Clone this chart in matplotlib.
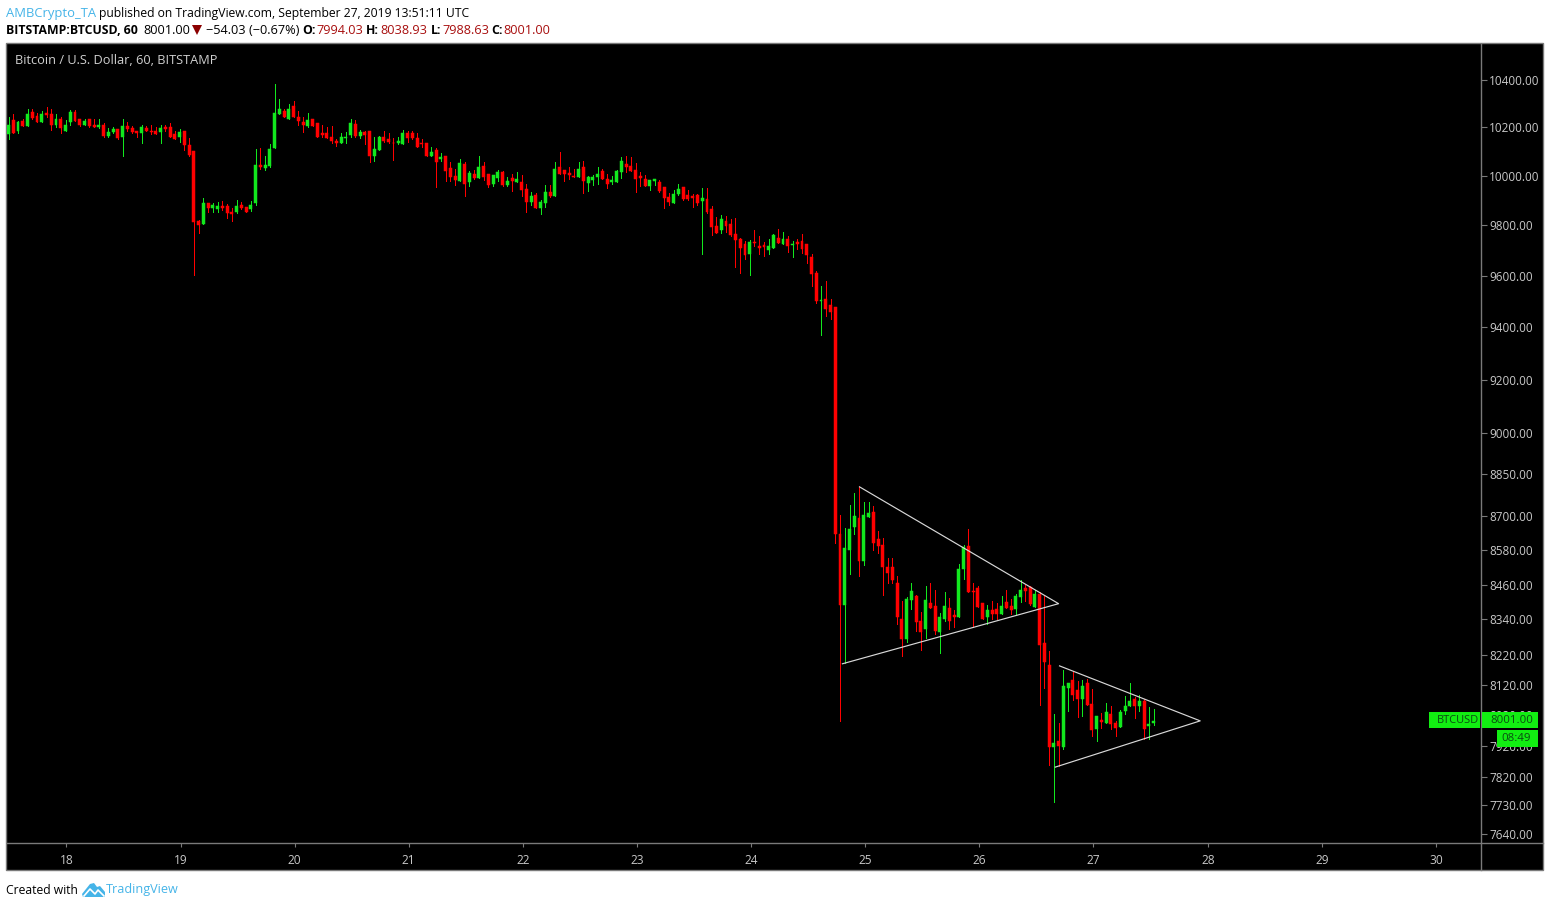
import matplotlib
matplotlib.use("Agg")
import matplotlib.pyplot as plt
from matplotlib.patches import Rectangle, Polygon

opens = [
10171,10229,10187,10226,10204,10264,10247,10223,10262,10254,
10208,10237,10183,10221,10264,10237,10212,10233,10208,10200,
10212,10166,10179,10192,10162,10204,10196,10183,10175,10196,
10187,10183,10179,10200,10200,10171,10162,10183,10125,10100,
9816,9804,9890,9869,9865,9878,9878,9853,9853,9882,
9874,9865,9890,10046,10033,10041,10116,10258,10267,10237,
10291,10243,10222,10204,10237,10220,10175,10175,10162,10145,
10137,10154,10170,10216,10166,10179,10183,10083,10108,10158,
10150,10137,10133,10129,10175,10175,10154,10137,10133,10083,
10108,10070,10083,10033,10000,9980,10050,9976,10008,9992,
10041,10008,9967,9992,10016,9963,9992,9976,9976,9947,
9894,9922,9869,9890,9935,9918,10037,10025,10012,10000,
9996,10037,9971,9984,9996,10021,9988,9976,9976,10017,
10050,10042,10025,10000,9988,9959,9980,9976,9955,9914,
9890,9927,9955,9922,9918,9922,9898,9906,9865,9796,
9780,9816,9804,9765,9745,9725,9686,9733,9717,9721,
9702,9710,9749,9725,9745,9721,9733,9737,9725,9674,
9611,9501,9509,9486,9478,8638,8389,8580,8662,8693,
8541,8697,8715,8618,8597,8520,8520,8464,8340,8272,
8407,8421,8333,8306,8396,8386,8296,8343,8379,8354,
8350,8513,8594,8439,8449,8396,8350,8372,8375,8357,
8400,8386,8375,8418,8449,8453,8382,8428,8261,8187,
7917,7936,7917,8110,8137,8104,8074,8127,8057,7975,
8004,7995,8024,7995,7982,8034,8051,8074,8051,8067,
7985,7994]

highs = [
10243,10254,10226,10237,10275,10275,10260,10267,10287,10275,
10254,10243,10229,10271,10271,10237,10237,10236,10233,10233,
10217,10196,10200,10192,10233,10221,10204,10183,10212,10204,
10212,10200,10212,10212,10217,10183,10192,10183,10154,10100,
9820,9910,9890,9890,9894,9898,9886,9869,9902,9894,
9874,9898,10112,10116,10083,10129,10383,10321,10279,10300,
10312,10270,10245,10262,10237,10220,10212,10200,10204,10150,
10175,10179,10233,10229,10191,10187,10187,10162,10166,10187,
10175,10154,10158,10191,10183,10187,10175,10150,10137,10120,
10116,10095,10083,10058,10029,10070,10058,10020,10025,10083,
10058,10008,10004,10025,10020,9996,10008,10016,10004,9967,
9935,9931,9902,9963,9963,10058,10099,10025,10037,10029,
10058,10062,10000,10004,10037,10029,10008,10000,10025,10079,
10083,10079,10054,10017,10004,9984,9988,9984,9955,9931,
9943,9967,9955,9943,9927,9927,9951,9951,9878,9833,
9841,9837,9824,9828,9749,9737,9741,9780,9757,9733,
9745,9765,9784,9772,9757,9737,9745,9765,9725,9686,
9619,9560,9580,9509,9478,8704,8659,8741,8784,8806,
8751,8751,8737,8649,8621,8552,8552,8488,8403,8418,
8467,8425,8365,8456,8467,8442,8361,8435,8414,8372,
8530,8597,8655,8467,8456,8396,8389,8403,8396,8421,
8442,8410,8428,8474,8460,8456,8442,8435,8421,8234,
8024,7995,8170,8127,8167,8133,8137,8140,8107,8018,
8027,8061,8051,8001,8037,8084,8127,8080,8087,8074,
8047,8039]

lows = [
10153,10175,10175,10204,10204,10236,10221,10221,10244,10191,
10203,10175,10183,10212,10225,10205,10210,10203,10200,10196,
10158,10162,10178,10150,10083,10183,10175,10162,10133,10187,
10171,10171,10137,10187,10161,10150,10141,10108,10083,9604,
9768,9804,9853,9853,9853,9861,9829,9816,9849,9865,
9853,9857,9882,10029,10025,10037,10116,10258,10242,10237,
10243,10208,10179,10200,10204,10162,10158,10154,10133,10124,
10137,10137,10162,10158,10154,10129,10058,10062,10108,10141,
10133,10066,10129,10129,10141,10150,10120,10120,10083,10083,
9955,10062,9980,9980,9963,9980,9918,9959,9988,9992,
9984,9955,9959,9980,9959,9959,9939,9976,9918,9853,
9882,9869,9844,9874,9914,9918,10008,9980,9988,9996,
9996,9931,9939,9963,9967,9988,9951,9967,9976,9992,
10017,10021,9935,9959,9959,9943,9963,9935,9869,9882,
9890,9922,9902,9902,9874,9882,9686,9849,9761,9769,
9769,9772,9757,9635,9611,9666,9604,9717,9686,9678,
9686,9710,9729,9725,9694,9674,9706,9690,9651,9560,
9493,9370,9442,9429,8606,8001,8193,8495,8638,8488,
8527,8697,8580,8569,8425,8464,8467,8323,8217,8262,
8375,8299,8237,8278,8379,8289,8227,8333,8306,8313,
8350,8478,8435,8313,8382,8340,8323,8340,8340,8357,
8379,8357,8357,8400,8403,8389,8382,8054,8110,7858,
7740,7854,7908,8034,8071,8013,8017,8054,7952,7936,
7978,7995,7975,7953,7982,8024,8051,8010,8034,7943,
7943,7989]

closes = [
10212,10178,10222,10204,10254,10240,10223,10254,10250,10212,
10233,10196,10212,10264,10225,10208,10225,10204,10200,10212,
10166,10179,10192,10157,10204,10192,10179,10175,10200,10187,
10179,10171,10196,10192,10162,10153,10179,10125,10086,9812,
9800,9890,9869,9882,9878,9869,9849,9845,9878,9869,
9853,9882,10046,10037,10046,10112,10262,10275,10242,10275,
10243,10225,10208,10229,10204,10162,10170,10154,10145,10137,
10158,10162,10220,10166,10179,10170,10083,10112,10158,10145,
10141,10135,10145,10175,10154,10154,10120,10129,10083,10099,
10058,10079,10020,9996,9984,10054,9967,10012,9992,10037,
9996,9963,10004,10016,9963,9980,9980,9988,9943,9894,
9918,9869,9894,9935,9918,10029,10008,10008,10004,9996,
10029,9980,9996,9996,10008,9988,9967,9984,10021,10062,
10037,10021,9988,9992,9959,9984,9988,9939,9910,9894,
9927,9947,9906,9906,9910,9890,9910,9853,9792,9769,
9824,9796,9761,9741,9710,9682,9733,9729,9710,9714,
9717,9761,9729,9745,9717,9725,9725,9706,9682,9607,
9501,9505,9470,9458,8635,8389,8587,8656,8700,8541,
8704,8711,8604,8594,8520,8499,8474,8350,8275,8410,
8439,8330,8296,8407,8379,8302,8347,8386,8333,8350,
8513,8590,8435,8435,8382,8340,8372,8357,8357,8386,
8379,8372,8421,8442,8439,8393,8428,8254,8197,7917,
7930,7920,8117,8127,8087,8074,8117,8054,7972,8018,
7998,8031,7991,7978,8031,8051,8067,8051,8067,7975,
7990,8001]

price_ticks = [7640, 7730, 7820, 7920, 8020, 8120, 8220, 8340, 8460, 8580,
               8700, 8850, 9000, 9200, 9400, 9600, 9800, 10000, 10200, 10400]
day_labels = ["18", "19", "20", "21", "22", "23", "24", "25", "26", "27", "28", "29", "30"]
day_ticks = [12.2, 36.2, 60.2, 84.2, 108.3, 132.3, 156.3, 180.3, 204.3, 228.3, 252.4, 276.4, 300.4]

# Hand-drawn triangle trend lines: (bar index, price)
triangle_1_x = [179.1, 221.0, 175.5]
triangle_1_y = [8805, 8394, 8190]
triangle_2_x = [221.2, 250.8, 220.3]
triangle_2_y = [8183, 8001, 7851]

GREEN = "#12E81E"
RED = "#FF0000"
AXIS_TXT = "#C8C8C8"
LINE = "#7A7A7A"
BLUE = "#45B4E8"
DARKRED = "#A80F0F"
FONT = "Open Sans"
W, H = 1550, 907

plt.rcParams["font.family"] = FONT
fig = plt.figure(figsize=(W / 100, H / 100), dpi=100, facecolor="white")

# background panel in pixel coordinates
bg = fig.add_axes([0, 0, 1, 1], zorder=0)
bg.set_xlim(0, W)
bg.set_ylim(H, 0)
bg.axis("off")
bg.add_patch(Rectangle((6, 43), 1537, 827, facecolor="black", edgecolor=LINE, lw=1))
bg.plot([1481, 1481], [44, 870], color=LINE, lw=1)
bg.plot([7, 1543], [843, 843], color=LINE, lw=1)

# chart
ax = fig.add_axes([7 / W, (H - 843) / H, (1481 - 7) / W, (843 - 44) / H], zorder=1)
ax.patch.set_alpha(0)
ax.set_yscale("log")
ax.set_ylim(7611, 10554)
ax.set_xlim(-0.316, 309.9)
for s in ax.spines.values():
    s.set_visible(False)

xs = list(range(len(opens)))
colors = [GREEN if c >= o else RED for o, c in zip(opens, closes)]
px = 72 / 100
ax.vlines(xs, lows, highs, colors=colors, lw=1 * px, antialiased=False, zorder=2)
tops = [max(o, c) for o, c in zip(opens, closes)]
bots = [min(o, c) for o, c in zip(opens, closes)]
ax.bar(xs, [t - b for t, b in zip(tops, bots)], bottom=bots, width=0.62, color=colors,
       edgecolor=colors, linewidth=0.35, zorder=3)

ax.plot(triangle_1_x, triangle_1_y, color="#D8D8D8", lw=0.85, zorder=4)
ax.plot(triangle_2_x, triangle_2_y, color="#D8D8D8", lw=0.85, zorder=4)

ax.yaxis.tick_right()
ax.set_yticks(price_ticks)
ax.set_yticklabels([f"{p:.2f}" for p in price_ticks])
ax.minorticks_off()
ax.tick_params(axis="y", length=4, width=0.8, color=LINE, labelcolor=AXIS_TXT, labelsize=8.5, pad=2)
ax.set_xticks(day_ticks)
ax.set_xticklabels(day_labels)
ax.tick_params(axis="x", length=3, width=0.8, color=LINE, labelcolor=AXIS_TXT, labelsize=8.6, pad=5)

# overlay: header, tags, footer
ov = fig.add_axes([0, 0, 1, 1], zorder=5)
ov.set_xlim(0, W)
ov.set_ylim(H, 0)
ov.axis("off")
ov.patch.set_alpha(0)


def t(x, y, s, color="black", size=9.2, weight="normal", ha="left"):
    ov.text(x, y, s, color=color, fontsize=size, fontweight=weight, ha=ha, va="center")


t(6, 14, "AMBCrypto_TA", BLUE, size=9.4, weight="medium")
t(99, 14, "published on TradingView.com, September 27, 2019 13:51:11 UTC", size=8.75)
t(6, 30.5, "BITSTAMP:BTCUSD, 60", weight="bold", size=8.8)
t(143, 30.5, "8001.00")
ov.add_patch(Polygon([(192, 25), (202, 25), (197, 35)], closed=True, facecolor="#8B0000", edgecolor="none"))
t(206, 30.5, "\u221254.03 (\u22120.67%)")
for lx, lab, vx, val in [(302, "O:", 316, "7994.03"), (366, "H:", 380, "8038.93"),
                         (431, "L:", 442, "7988.63"), (491, "C:", 503, "8001.00")]:
    t(lx, 30.5, lab, weight="bold", size=8.8)
    t(vx, 30.5, val, DARKRED)

t(15, 61, "Bitcoin / U.S. Dollar, 60, BITSTAMP", "#D0D0D0", size=9.2)

TAG = "#12EE12"
TAGTXT = "#0B4A12"
ov.add_patch(Rectangle((1429, 712), 51, 16, facecolor=TAG, edgecolor="none"))
ov.add_patch(Rectangle((1482, 712), 56, 16, facecolor=TAG, edgecolor="none"))
ov.add_patch(Rectangle((1497, 730), 41, 17, facecolor=TAG, edgecolor="none"))
t(1437, 720.5, "BTCUSD", TAGTXT, size=7.9)
t(1490, 720.5, "8001.00", TAGTXT, size=8.2)
t(1501, 738.5, "08:49", TAGTXT, size=8.2)

t(6, 890, "Created with", size=8.75)
ov.add_patch(Polygon([(82, 894), (90, 884), (94, 883), (97, 887), (100, 886), (105, 892), (105, 897),
                      (83, 897)], closed=True, facecolor=BLUE, edgecolor="none"))
ov.plot([84, 90, 95, 98, 104], [896, 889, 894, 890, 896], color="white", lw=1.2)
t(106, 890, "TradingView", BLUE, size=9.1)

fig.savefig("out.png", dpi=100, facecolor="white")
